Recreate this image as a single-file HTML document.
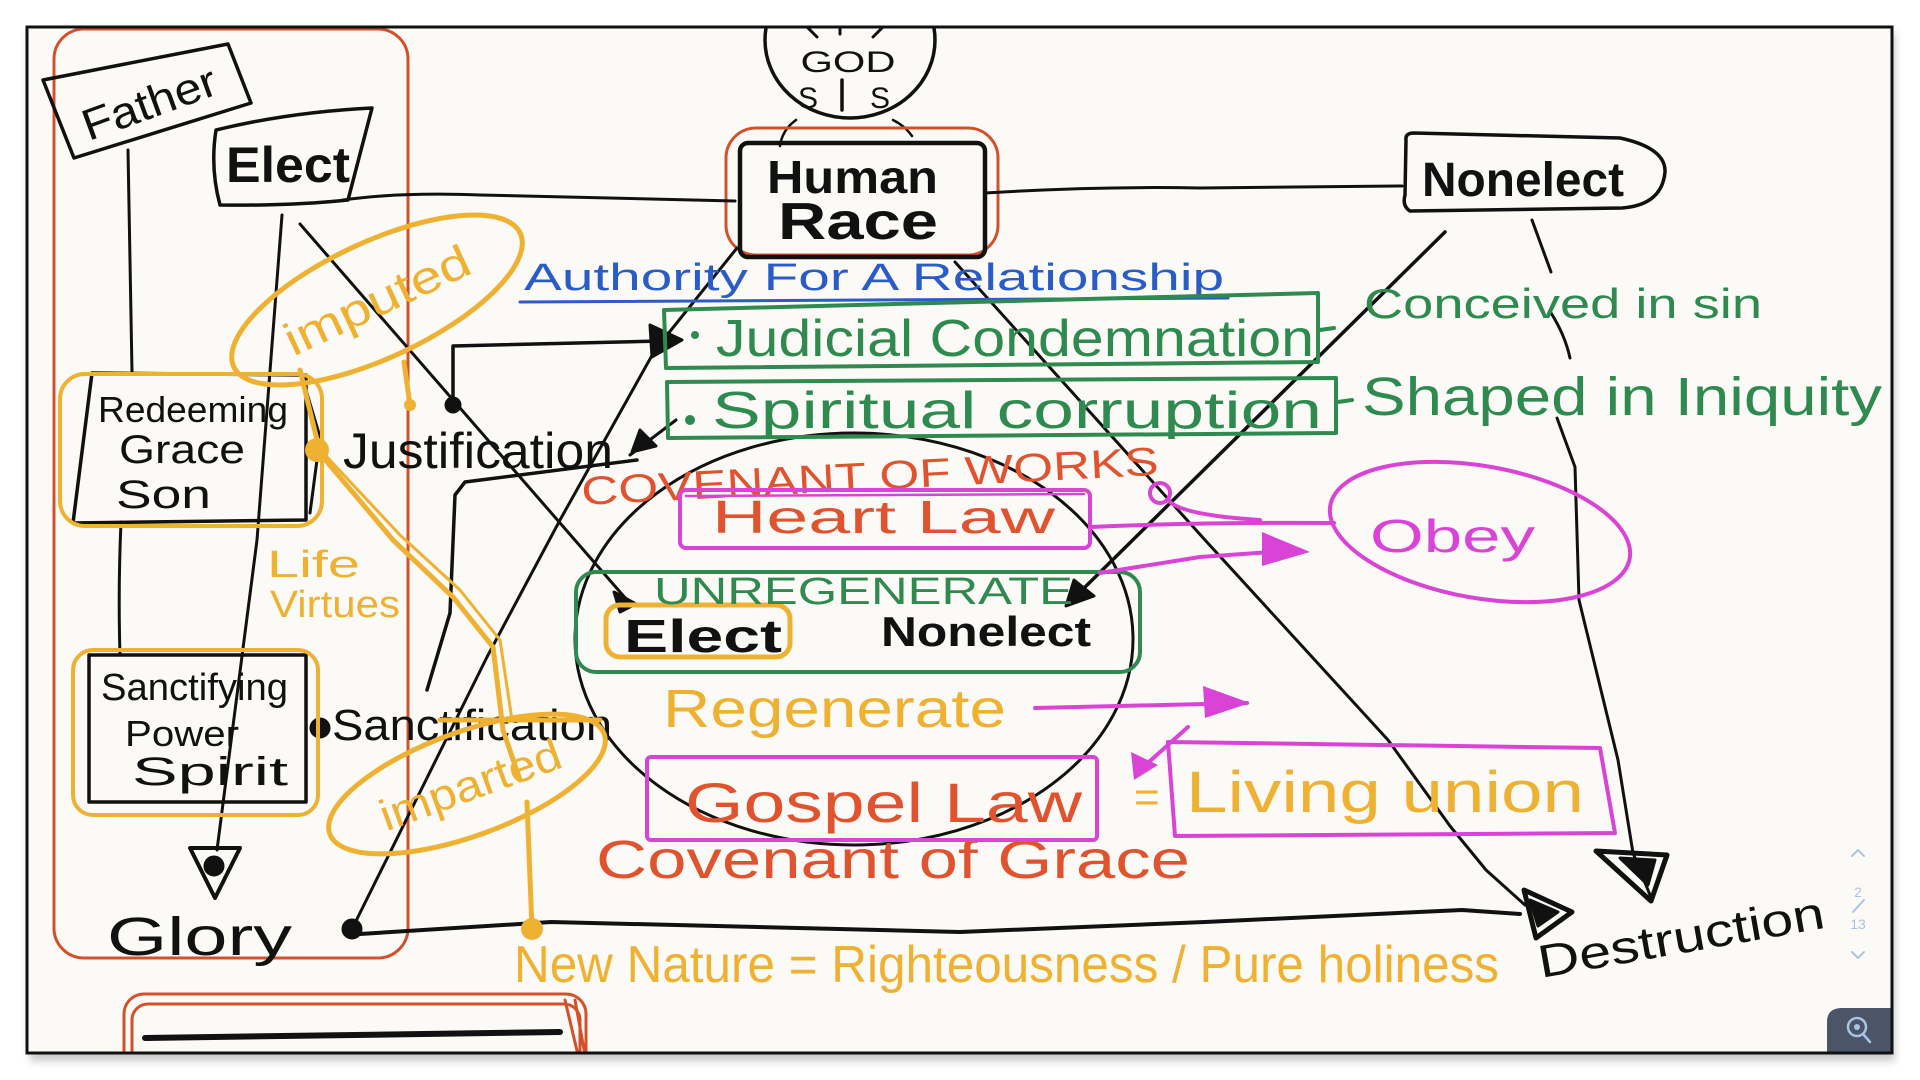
<!DOCTYPE html>
<html><head><meta charset="utf-8"><style>
html,body{margin:0;padding:0;background:#fff;}
svg{display:block;}
text{font-family:"Liberation Sans","DejaVu Sans",sans-serif;}
</style></head><body>
<svg width="1920" height="1080" viewBox="0 0 1920 1080" xmlns="http://www.w3.org/2000/svg">
<defs>
<filter id="sh" x="-5%" y="-5%" width="110%" height="115%"><feGaussianBlur stdDeviation="4"/></filter>
<clipPath id="cp"><rect x="28" y="28" width="1863" height="1024"/></clipPath>
</defs>
<rect width="1920" height="1080" fill="#fff"/>
<rect x="30" y="33" width="1865" height="1028" fill="#888" opacity="0.45" filter="url(#sh)"/>
<rect x="27" y="27" width="1865" height="1026" fill="#fcfaf7"/>
<g clip-path="url(#cp)" stroke-linecap="round" stroke-linejoin="round">

<!-- red left column -->
<rect x="54" y="29" width="354" height="929" rx="30" fill="none" stroke="#d4502a" stroke-width="3"/>

<!-- Father box -->
<path d="M43,80 L228,44 L251,103 L74,158 Z" fill="none" stroke="#111" stroke-width="3.5"/>
<text x="150" y="118" font-size="44" fill="#111" text-anchor="middle" textLength="140" lengthAdjust="spacingAndGlyphs" transform="rotate(-20 150 105)">Father</text>

<!-- Elect box -->
<path d="M216,130 Q290,112 372,108 L348,200 Q290,206 220,205 Q210,168 216,130 Z" fill="none" stroke="#111" stroke-width="3.5"/>
<text x="226" y="182" font-size="50" font-weight="bold" fill="#111" textLength="124" lengthAdjust="spacingAndGlyphs">Elect</text>

<!-- GOD circle -->
<ellipse cx="850" cy="40" rx="85" ry="78" fill="none" stroke="#111" stroke-width="3.5"/>
<path d="M807,27 L817,37 M840,27 L840,34 M873,37 L883,27" stroke="#111" stroke-width="3"/>
<text x="848" y="72" font-size="30" fill="#111" text-anchor="middle" textLength="95" lengthAdjust="spacingAndGlyphs">GOD</text>
<text x="808" y="108" font-size="30" fill="#111" text-anchor="middle">S</text>
<text x="880" y="108" font-size="30" fill="#111" text-anchor="middle">S</text>
<path d="M842,80 L842,110" stroke="#111" stroke-width="3.5"/>
<path d="M796,120 Q782,130 780,146 M893,120 Q905,126 912,136" fill="none" stroke="#111" stroke-width="2.5"/>

<!-- Human Race -->
<rect x="726" y="128" width="272" height="127" rx="30" fill="none" stroke="#d4502a" stroke-width="3"/>
<rect x="740" y="143" width="245" height="114" rx="8" fill="none" stroke="#111" stroke-width="4.5"/>
<text x="767" y="193" font-size="46" font-weight="bold" fill="#111" textLength="171" lengthAdjust="spacingAndGlyphs">Human</text>
<text x="778" y="239" font-size="52" font-weight="bold" fill="#111" textLength="160" lengthAdjust="spacingAndGlyphs">Race</text>

<!-- Nonelect -->
<path d="M1406,140 Q1405,133 1414,133 L1620,138 Q1666,148 1665,172 Q1662,205 1622,208 L1410,211 Q1402,206 1405,195 Z" fill="none" stroke="#111" stroke-width="3.5"/>
<text x="1422" y="196" font-size="48" font-weight="bold" fill="#111" textLength="202" lengthAdjust="spacingAndGlyphs">Nonelect</text>

<!-- black connectors -->
<g fill="none" stroke="#111" stroke-width="3">
<path d="M343,200 Q400,192 480,195 L735,201"/>
<path d="M985,193 Q1100,186 1200,188 L1402,186"/>
<path d="M128,150 L132,372"/>
<path d="M121,522 Q118,590 120,655"/>
<path d="M282,215 L257,540 L217,850"/>
<path d="M300,224 L627,600"/>
<path d="M737,248 L655,350 L560,520 L487,657 L352,929"/>
<path d="M955,262 L1205,540 L1388,740 L1450,826 L1486,870 L1525,905"/>
<path d="M1445,232 L1078,594" stroke-width="3.5"/>
<path d="M1532,220 L1551,272"/>
<path d="M1551,313 Q1565,335 1570,358"/>
<path d="M1557,418 L1575,467 L1579,600 L1618,760 L1633,853 L1650,895"/>
<path d="M453,405 L453,346 L660,341" stroke-width="3.5"/>
<path d="M637,460 L465,482 L455,495 L450,613 L427,690" stroke-width="3.5"/>
<path d="M360,934 L551,922 L960,932 L1205,922 L1462,910 L1520,914" stroke-width="4"/>
<path d="M630,455 L676,420"/>
<path d="M303,380 L320,437 L310,513"/>
</g>
<!-- arrowheads / dots -->
<g fill="#111" stroke="#111" stroke-width="3">
<polygon points="650,325 682,340 652,357"/>
<polygon points="614,592 636,604 620,612"/>
<polygon points="1074,580 1094,596 1066,606"/>
<polygon points="640,430 656,446 632,452"/>
<circle cx="453" cy="405" r="7"/>
<circle cx="352" cy="929" r="9"/>
<circle cx="320" cy="728" r="9"/>
<circle cx="214" cy="866" r="9"/>
<polygon points="1524,890 1572,912 1536,938" fill="none" stroke-width="5"/>
<polygon points="1530,900 1558,912 1538,926"/>
<polygon points="1596,851 1667,855 1651,901" fill="none" stroke-width="5"/>
<polygon points="1620,858 1655,860 1648,885"/>
</g>
<polygon points="190,848 240,848 215,898" fill="none" stroke="#111" stroke-width="4"/>

<!-- big circle -->
<ellipse cx="854" cy="639" rx="279" ry="206" fill="none" stroke="#111" stroke-width="3"/>

<!-- Left column boxes -->
<path d="M92,373 L306,375 L306,520 L73,523 Z" fill="none" stroke="#111" stroke-width="3.5"/>
<rect x="60" y="374" width="262" height="152" rx="25" fill="none" stroke="#efb132" stroke-width="4"/>
<text x="98" y="422" font-size="36" fill="#111" textLength="190" lengthAdjust="spacingAndGlyphs">Redeeming</text>
<text x="119" y="463" font-size="40" fill="#111" textLength="126" lengthAdjust="spacingAndGlyphs">Grace</text>
<text x="116" y="508" font-size="40" fill="#111" textLength="95" lengthAdjust="spacingAndGlyphs">Son</text>

<path d="M89,655 L306,655 L306,802 L89,802 Z" fill="none" stroke="#111" stroke-width="3.5"/>
<rect x="73" y="650" width="245" height="165" rx="20" fill="none" stroke="#efb132" stroke-width="4"/>
<text x="101" y="700" font-size="38" fill="#111" textLength="187" lengthAdjust="spacingAndGlyphs">Sanctifying</text>
<text x="125" y="746" font-size="36" fill="#111" textLength="114" lengthAdjust="spacingAndGlyphs">Power</text>
<text x="132" y="785" font-size="40" fill="#111" textLength="156" lengthAdjust="spacingAndGlyphs">Spirit</text>

<text x="107" y="955" font-size="54" fill="#111" textLength="185" lengthAdjust="spacingAndGlyphs">Glory</text>
<text x="343" y="468" font-size="50" fill="#111" textLength="270" lengthAdjust="spacingAndGlyphs">Justification</text>
<text x="332" y="740" font-size="44" fill="#111" textLength="280" lengthAdjust="spacingAndGlyphs">Sanctification</text>

<!-- yellow -->
<g fill="none" stroke="#efb132" stroke-width="5">
<ellipse cx="377" cy="300" rx="158" ry="58" transform="rotate(-25 377 300)"/>
<ellipse cx="467" cy="784" rx="146" ry="52" transform="rotate(-20 467 784)"/>
<rect x="606" y="605" width="184" height="52" rx="14"/>
<path d="M317,450 L393,540 L453,597 L493,647 L503,730 L520,780"/>
<path d="M327,457 L400,535 L460,590 L500,640 L512,720" stroke-width="3"/>
<path d="M300,370 L318,444"/>
<path d="M404,362 L410,405"/>
<path d="M527,802 L532,929"/>
<path d="M440,720 L600,720"/>
</g>
<circle cx="317" cy="450" r="12" fill="#efb132"/>
<circle cx="410" cy="405" r="6" fill="#efb132"/>
<circle cx="532" cy="929" r="11" fill="#efb132"/>
<text x="377" y="316" font-size="46" fill="#efb132" text-anchor="middle" textLength="200" lengthAdjust="spacingAndGlyphs" transform="rotate(-25 377 300)">imputed</text>
<text x="470" y="800" font-size="44" fill="#efb132" text-anchor="middle" textLength="190" lengthAdjust="spacingAndGlyphs" transform="rotate(-20 470 784)">imparted</text>
<text x="267" y="577" font-size="38" fill="#efb132" textLength="93" lengthAdjust="spacingAndGlyphs">Life</text>
<text x="270" y="617" font-size="38" fill="#efb132" textLength="130" lengthAdjust="spacingAndGlyphs">Virtues</text>
<text x="663" y="727" font-size="54" fill="#efb132" textLength="343" lengthAdjust="spacingAndGlyphs">Regenerate</text>
<text x="1134" y="812" font-size="44" fill="#efb132">=</text>
<text x="1186" y="812" font-size="58" fill="#efb132" textLength="398" lengthAdjust="spacingAndGlyphs">Living union</text>
<text x="514" y="982" font-size="52" fill="#efb132" textLength="985" lengthAdjust="spacingAndGlyphs">New Nature = Righteousness / Pure holiness</text>

<!-- blue -->
<text x="524" y="290" font-size="38" fill="#2a5cc9" textLength="700" lengthAdjust="spacingAndGlyphs">Authority For A Relationship</text>
<path d="M520,302 L1228,298" stroke="#2a5cc9" stroke-width="3" fill="none"/>

<!-- green -->
<g fill="none" stroke="#2f8a4f" stroke-width="4">
<path d="M664,310 L1318,293 L1318,362 L666,368 Z"/>
<path d="M667,382 L1336,378 L1336,433 L668,438 Z"/>
<rect x="576" y="572" width="564" height="100" rx="20"/>
<path d="M1320,330 L1334,328 M1338,402 L1352,400"/>
</g>
<circle cx="695" cy="335" r="4" fill="#2f8a4f"/>
<circle cx="690" cy="420" r="5" fill="#2f8a4f"/>
<text x="716" y="356" font-size="52" fill="#2f8a4f" textLength="598" lengthAdjust="spacingAndGlyphs">Judicial Condemnation</text>
<text x="712" y="428" font-size="52" fill="#2f8a4f" textLength="610" lengthAdjust="spacingAndGlyphs">Spiritual corruption</text>
<text x="1364" y="318" font-size="42" fill="#2f8a4f" textLength="398" lengthAdjust="spacingAndGlyphs">Conceived in sin</text>
<text x="1362" y="415" font-size="54" fill="#2f8a4f" textLength="520" lengthAdjust="spacingAndGlyphs">Shaped in Iniquity</text>
<text x="654" y="604" font-size="38" fill="#2f8a4f" textLength="419" lengthAdjust="spacingAndGlyphs">UNREGENERATE</text>

<!-- circle inner black text -->
<text x="624" y="652" font-size="46" font-weight="bold" fill="#111" textLength="158" lengthAdjust="spacingAndGlyphs">Elect</text>
<text x="881" y="646" font-size="42" font-weight="bold" fill="#111" textLength="210" lengthAdjust="spacingAndGlyphs">Nonelect</text>

<!-- red texts -->
<text x="582" y="505" font-size="40" fill="#e0532e" textLength="578" lengthAdjust="spacingAndGlyphs" transform="rotate(-3 582 505)">COVENANT OF WORKS</text>
<text x="712" y="533" font-size="46" fill="#e0532e" textLength="343" lengthAdjust="spacingAndGlyphs">Heart Law</text>
<text x="685" y="822" font-size="56" fill="#e0532e" textLength="397" lengthAdjust="spacingAndGlyphs">Gospel Law</text>
<text x="596" y="878" font-size="54" fill="#e0532e" textLength="594" lengthAdjust="spacingAndGlyphs">Covenant of Grace</text>

<!-- magenta -->
<g fill="none" stroke="#d944d6" stroke-width="4">
<rect x="680" y="490" width="410" height="58" rx="6"/>
<path d="M686,496 L1084,494" stroke-width="2.5"/>
<rect x="647" y="757" width="450" height="83" rx="4"/>
<path d="M1168,742 L1600,748 L1615,833 L1175,836 Z"/>
<path d="M1091,527 Q1200,522 1334,523"/>
<circle cx="1160" cy="493" r="10"/>
<path d="M1168,500 Q1180,515 1260,520"/>
<path d="M1100,573 L1200,557 L1300,550"/>
<ellipse cx="1480" cy="532" rx="152" ry="66" transform="rotate(10 1480 532)"/>
<path d="M1035,708 L1247,703"/>
<path d="M1188,727 L1140,770"/>
</g>
<polygon points="1262,532 1310,552 1262,566" fill="#d944d6"/>
<polygon points="1203,686 1250,703 1205,718" fill="#d944d6"/>
<polygon points="1131,752 1158,765 1134,780" fill="#d944d6"/>
<text x="1370" y="552" font-size="46" fill="#d944d6" textLength="165" lengthAdjust="spacingAndGlyphs">Obey</text>

<!-- Destruction -->
<text x="1541" y="978" font-size="46" fill="#111" textLength="290" lengthAdjust="spacingAndGlyphs" transform="rotate(-10 1541 978)">Destruction</text>

<!-- bottom red rect -->
<g fill="none" stroke="#d4502a" stroke-width="3">
<rect x="124" y="994" width="462" height="90" rx="20"/>
<rect x="132" y="1004" width="448" height="80" rx="16"/>
<path d="M575,1000 L585,1055 M565,1000 L578,1055"/>
</g>
<path d="M145,1038 L560,1032" stroke="#111" stroke-width="6" fill="none"/>

<!-- page indicator -->
<g fill="none" stroke="#a9c3e2" stroke-width="2">
<path d="M1852,856 L1858,850 L1864,856"/>
<path d="M1852,952 L1858,958 L1864,952"/>
<path d="M1853,912 L1864,900"/>
</g>
<text x="1858" y="897" font-size="14" fill="#a9c3e2" text-anchor="middle">2</text>
<text x="1858" y="929" font-size="14" fill="#a9c3e2" text-anchor="middle">13</text>
<path d="M1827,1053 L1827,1022 Q1827,1008 1842,1008 L1892,1008 L1892,1053 Z" fill="#4b5567"/>
<circle cx="1857" cy="1027" r="9" fill="none" stroke="#a9c3e2" stroke-width="2.5"/>
<circle cx="1857" cy="1027" r="3" fill="#a9c3e2"/>
<path d="M1863,1034 L1870,1042" stroke="#a9c3e2" stroke-width="2.5"/>
</g>
<rect x="27" y="27" width="1865" height="1026" fill="none" stroke="#111" stroke-width="3"/>
</svg>
</body></html>
